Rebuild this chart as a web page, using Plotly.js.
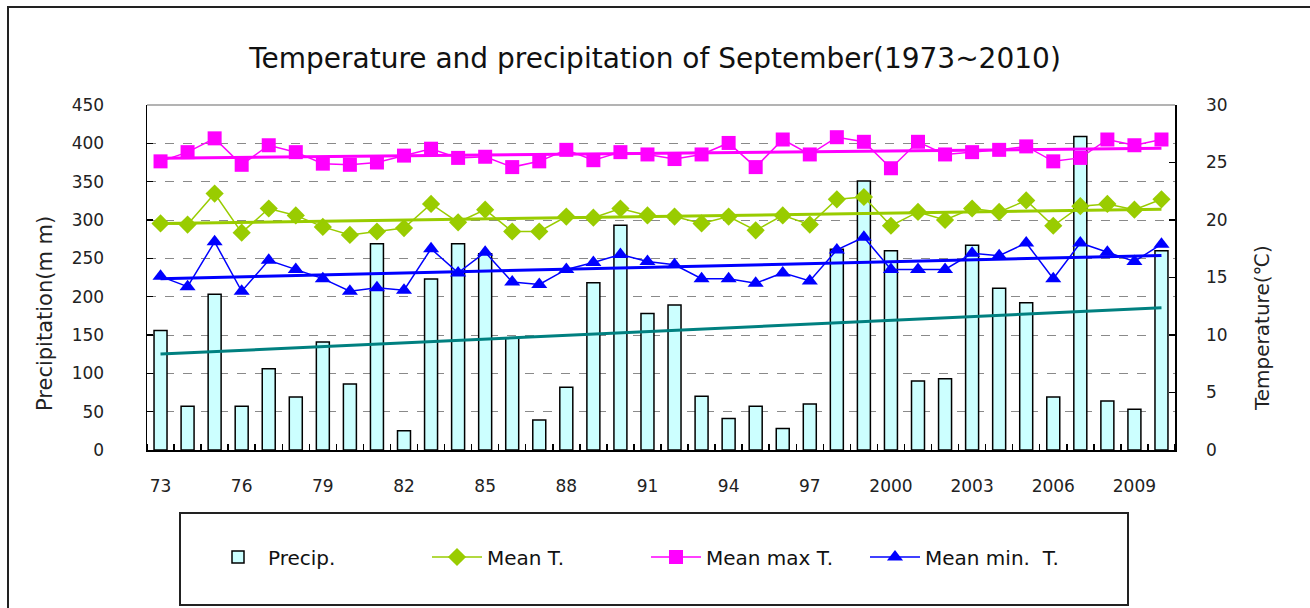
<!DOCTYPE html>
<html>
<head>
<meta charset="utf-8">
<script src="https://cdn.plot.ly/plotly-3.0.1.min.js"></script>
<style>html,body{margin:0;padding:0;background:#fff;}#chart{width:1310px;height:608px;}</style>
</head>
<body>
<div id="chart"></div>
<script>
const years = [1973,1974,1975,1976,1977,1978,1979,1980,1981,1982,1983,1984,1985,1986,1987,1988,1989,1990,1991,1992,1993,1994,1995,1996,1997,1998,1999,2000,2001,2002,2003,2004,2005,2006,2007,2008,2009,2010];
const precip = [156,57,203,57,106,69,141,86,269,25,223,269,256,146,39,82,218,293,178,189,70,41,57,28,60,262,351,260,90,93,267,211,192,69,409,64,53,260];
const meanT = [19.7,19.6,22.3,18.9,21.0,20.4,19.4,18.7,19.0,19.3,21.4,19.8,20.9,19.0,19.0,20.3,20.2,21.0,20.4,20.3,19.7,20.3,19.1,20.4,19.6,21.8,22.0,19.5,20.7,20.0,21.0,20.7,21.7,19.5,21.2,21.4,20.9,21.8];
const meanMax = [25.1,25.9,27.1,24.8,26.5,25.9,24.9,24.8,25.0,25.6,26.2,25.4,25.5,24.6,25.1,26.1,25.2,25.9,25.7,25.3,25.7,26.7,24.6,27.0,25.7,27.2,26.8,24.5,26.8,25.7,25.9,26.1,26.4,25.1,25.4,27.0,26.5,27.0];
const meanMin = [15.1,14.2,18.1,13.8,16.5,15.7,14.9,13.8,14.1,13.9,17.5,15.4,17.2,14.6,14.4,15.7,16.3,17.0,16.4,16.1,14.9,14.9,14.5,15.4,14.7,17.4,18.5,15.7,15.7,15.7,17.1,16.9,18.0,14.9,18.0,17.2,16.4,17.9];
const tickYears = [1973,1976,1979,1982,1985,1988,1991,1994,1997,2000,2003,2006,2009];
const tickLabels = ["73","76","79","82","85","88","91","94","97","2000","2003","2006","2009"];

function trend(xs, ys) {
  const n = xs.length;
  let sx=0, sy=0, sxx=0, sxy=0;
  for (let i=0;i<n;i++){sx+=xs[i];sy+=ys[i];sxx+=xs[i]*xs[i];sxy+=xs[i]*ys[i];}
  const b = (n*sxy - sx*sy)/(n*sxx - sx*sx);
  const a = (sy - b*sx)/n;
  const x0 = xs[0], x1 = xs[n-1];
  return {x:[x0,x1], y:[a+b*x0, a+b*x1]};
}

const FONT = "DejaVu Sans, Liberation Sans, sans-serif";
const cGreen = "#99CC00", cMag = "#FF00FF", cBlue = "#0000FF", cTeal = "#008080";

const tP = trend(years, precip), tT = trend(years, meanT), tMx = trend(years, meanMax), tMn = trend(years, meanMin);

const traces = [
  {type:"bar", name:"Precip.", x:years, y:precip, width:0.48,
   marker:{color:"#CCFFFF", line:{color:"#000000", width:1.5}}, yaxis:"y"},
  {type:"scatter", mode:"lines", x:tP.x, y:tP.y, yaxis:"y", showlegend:false,
   line:{color:cTeal, width:3}, hoverinfo:"skip"},
  {type:"scatter", mode:"lines+markers", name:"Mean T.", x:years, y:meanT, yaxis:"y2",
   line:{color:cGreen, width:1.5}, marker:{symbol:"diamond", size:14, color:cGreen}},
  {type:"scatter", mode:"lines+markers", name:"Mean max T.", x:years, y:meanMax, yaxis:"y2",
   line:{color:cMag, width:1.5}, marker:{symbol:"square", size:14, color:cMag}},
  {type:"scatter", mode:"lines+markers", name:"Mean min.\u00a0 T.", x:years, y:meanMin, yaxis:"y2",
   line:{color:cBlue, width:1.5}, marker:{symbol:"triangle-up", size:14, color:cBlue}},
  {type:"scatter", mode:"lines", x:tT.x, y:tT.y, yaxis:"y2", showlegend:false,
   line:{color:cGreen, width:3}, hoverinfo:"skip"},
  {type:"scatter", mode:"lines", x:tMx.x, y:tMx.y, yaxis:"y2", showlegend:false,
   line:{color:cMag, width:3}, hoverinfo:"skip"},
  {type:"scatter", mode:"lines", x:tMn.x, y:tMn.y, yaxis:"y2", showlegend:false,
   line:{color:cBlue, width:3}, hoverinfo:"skip"}
];

// paper coords helpers for frames (plot area: x 147..1175, y 105..450)
const PX = px => (px-147)/1028;
const PY = py => (450-py)/345;

const layout = {
  width:1310, height:608,
  margin:{l:147, r:135, t:105, b:158, pad:0},
  paper_bgcolor:"#ffffff", plot_bgcolor:"#ffffff",
  font:{family:FONT, size:17, color:"#222222"},
  showlegend:true,
  title:{text:"Temperature and precipitation of September(1973~2010)",
         font:{family:FONT, size:28, color:"#111111"}, x:0.5, xanchor:"center", y:0.905, yanchor:"middle"},
  bargap:0.5,
  xaxis:{range:[1972.5, 2010.5], tickmode:"array", tickvals:tickYears, ticktext:tickLabels,
         ticks:"", showgrid:false, zeroline:false, showline:true, linecolor:"#000000", linewidth:1.5,
         ticklabelstandoff:20, tickfont:{family:FONT, size:17, color:"#222222"},
         minor:{tick0:1972.5, dtick:1, ticks:"inside", ticklen:6, tickcolor:"#000000", tickwidth:1.5, showgrid:false},
         fixedrange:true},
  yaxis:{range:[0,450], dtick:50, tick0:0, ticks:"inside", ticklen:6, tickcolor:"#000000", tickwidth:1.5,
         showline:true, linecolor:"#000000", linewidth:1.5, zeroline:false,
         showgrid:true, gridcolor:"#8a8a8a", griddash:"dash", gridwidth:1,
         ticklabelstandoff:38, tickfont:{family:FONT, size:17, color:"#222222"}, fixedrange:true},
  yaxis2:{range:[0,30], dtick:5, tick0:0, overlaying:"y", side:"right", ticks:"inside", ticklen:6,
          tickcolor:"#000000", tickwidth:1.5, showline:true, linecolor:"#000000", linewidth:1.5,
          zeroline:false, showgrid:false, ticklabelstandoff:26,
          tickfont:{family:FONT, size:17, color:"#222222"}, fixedrange:true},
  legend:{orientation:"h", x:PX(208), xanchor:"left", y:PY(557), yanchor:"middle",
          bgcolor:"rgba(0,0,0,0)", borderwidth:0, itemwidth:50, itemsizing:"trace",
          font:{family:FONT, size:20, color:"#111111"}, traceorder:"normal",
          entrywidth:154, entrywidthmode:"pixels"},
  annotations:[
    {text:"Precipitation(m m)", xref:"paper", yref:"paper", x:PX(45), y:PY(314), textangle:-90,
     showarrow:false, font:{family:FONT, size:21, color:"#222222"}, xanchor:"center", yanchor:"middle"},
    {text:"Temperature(\u2103)", xref:"paper", yref:"paper", x:PX(1262), y:PY(328), textangle:-90,
     showarrow:false, font:{family:FONT, size:20, color:"#222222"}, xanchor:"center", yanchor:"middle"}
  ],
  shapes:[
    {type:"line", xref:"paper", yref:"paper", x0:0, x1:1, y0:1, y1:1, line:{color:"#9a9a9a", width:1.5}},
    {type:"rect", xref:"paper", yref:"paper", x0:PX(8), x1:PX(1313), y0:PY(7), y1:PY(612),
     line:{color:"#222222", width:2}, layer:"below"},
    {type:"rect", xref:"paper", yref:"paper", x0:PX(180), x1:PX(1128), y0:PY(513), y1:PY(605),
     line:{color:"#222222", width:2}, layer:"below"}
  ]
};

Plotly.newPlot("chart", traces, layout, {displayModeBar:false, staticPlot:true});
</script>
</body>
</html>
